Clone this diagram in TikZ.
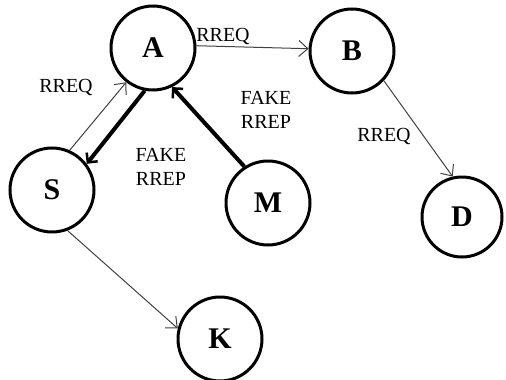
\documentclass[tikz,border=0pt]{standalone}
\usepackage{fontspec}
\setmainfont{Liberation Serif}
\usetikzlibrary{arrows.meta}
\begin{document}
\begin{tikzpicture}[x=1pt,y=-1pt,
  peer/.style={circle,draw,line width=3pt,inner sep=0pt,minimum size=84pt,
    font=\fontsize{30}{30}\selectfont\bfseries},
  msg/.style={font=\fontsize{20}{24}\selectfont,align=center,inner sep=0pt},
  thinarrow/.style={draw=black!75,line width=1pt,
    -{Straight Barb[length=9pt,width=16pt,line width=1pt]}},
  thickarrow/.style={draw=black,line width=4pt,
    -{Straight Barb[length=7pt,width=14pt,line width=2.5pt]}}]
\useasboundingbox (0,0) rectangle (506,380);
% nodes of the route discovery
\node[peer] (A) at (153,48) {A};
\node[peer] (B) at (352,51) {B};
\node[peer] (S) at (52,190) {S};
\node[peer] (M) at (268,203) {M};
\node[peer,minimum size=80pt] (D) at (462,217) {D};
\node[peer] (K) at (220,339) {K};
% route requests
\draw[thinarrow] (S.66) -- (A.232);
\draw[thinarrow] (A.3) -- (B.177);
\draw[thinarrow] (B.-43) -- (D.103);
\draw[thinarrow] (S.291) -- (K.166);
% forged replies
\draw[thickarrow] (M.123) -- (A.296);
\draw[thickarrow] (A.259) -- (S.37);
% message labels
\node[msg] (l1) at (66,87) {RREQ};
\node[msg] (l2) at (223,36) {RREQ};
\node[msg] (l3) at (384,136) {RREQ};
\node[msg] (l4) at (161,167) {FAKE\\RREP};
\node[msg] (l5) at (266,110) {FAKE\\RREP};
\end{tikzpicture}
\end{document}
